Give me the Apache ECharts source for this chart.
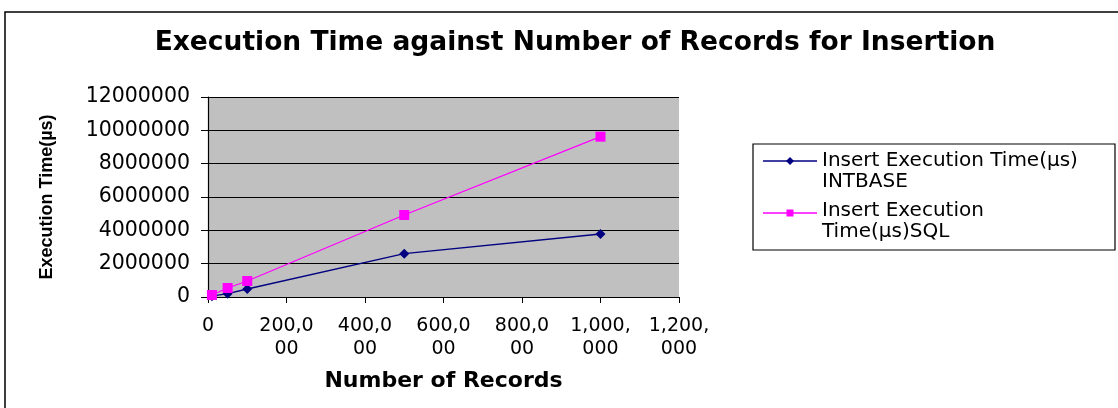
<!DOCTYPE html>
<html><head><meta charset="utf-8">
<script src="https://cdn.jsdelivr.net/npm/echarts@6/dist/echarts.min.js"></script>
<style>html,body{margin:0;padding:0;background:#fff;}#c{width:1118px;height:408px;}</style>
</head><body><div id="c"></div>
<script>
const records = [10000, 50000, 100000, 500000, 1000000];
const intbase = [50000, 200000, 480000, 2600000, 3780000];
const sqlTimes = [120000, 540000, 960000, 4920000, 9620000];
const xTickLabels = {0:'0',200000:'200,0\n00',400000:'400,0\n00',600000:'600,0\n00',800000:'800,0\n00',1000000:'1,000,\n000',1200000:'1,200,\n000'};
const seriesNames = ['Insert Execution Time(µs)\nINTBASE', 'Insert Execution\nTime(µs)SQL'];
const seriesColors = ['#000080', '#FF00FF'];
const F = '"DejaVu Sans", Verdana, sans-serif';
const FA = 'Arial, "Liberation Sans", sans-serif';

// legend drawn as graphic so the marker sits on the first text line (as in the reference)
const LX = 753, LY = 144, LW = 362, LH = 106;
const legendItems = [];
seriesNames.forEach((name, i) => {
  const cy = LY + 17 + i * 52;
  legendItems.push({ type: 'line', shape: { x1: LX + 10, y1: cy, x2: LX + 64, y2: cy }, style: { stroke: seriesColors[i], lineWidth: 1.3 } });
  if (i === 0) {
    legendItems.push({ type: 'polygon', shape: { points: [[LX + 37, cy - 4], [LX + 41, cy], [LX + 37, cy + 4], [LX + 33, cy]] }, style: { fill: seriesColors[i] } });
  } else {
    legendItems.push({ type: 'rect', shape: { x: LX + 33.5, y: cy - 3.5, width: 7, height: 7 }, style: { fill: seriesColors[i] } });
  }
  legendItems.push({ type: 'text', x: LX + 69, y: cy - 11 - (i === 1 ? 2 : 0), style: { text: name, font: '20px ' + F, fill: '#000', lineHeight: 21.5, verticalAlign: 'top' } });
});

const chart = echarts.init(document.getElementById('c'));
chart.setOption({
  animation: false,
  backgroundColor: '#fff',
  title: { text: 'Execution Time against Number of Records for Insertion', left: 570, textAlign: 'center', top: 25,
    textStyle: { fontFamily: F, fontSize: 26.5, fontWeight: 'bold', color: '#000' } },
  graphic: [
    { type: 'rect', shape: { x: 5, y: 12, width: 1130, height: 410 }, style: { fill: 'none', stroke: '#000', lineWidth: 1.5 }, silent: true },
    { type: 'group', silent: true, children: [
      { type: 'rect', shape: { x: LX, y: LY, width: LW, height: LH }, style: { fill: '#fff', stroke: '#000', lineWidth: 1.2 } }
    ].concat(legendItems) }
  ],
  legend: { show: false, data: seriesNames },
  grid: { left: 208, right: 439, top: 97, bottom: 111, show: true, backgroundColor: '#C0C0C0', borderWidth: 0 },
  xAxis: {
    type: 'value', min: 0, max: 1200000, interval: 200000,
    name: 'Number of Records', nameLocation: 'middle', nameGap: 73,
    nameTextStyle: { fontFamily: F, fontSize: 22, fontWeight: 'bold', color: '#000' },
    axisLine: { show: true, onZero: false, lineStyle: { color: '#000', width: 1.2 } },
    axisTick: { show: true, length: 6, lineStyle: { color: '#000' } },
    splitLine: { show: false },
    axisLabel: { fontFamily: F, fontSize: 19, color: '#000', margin: 18, lineHeight: 23,
      formatter: v => xTickLabels[v] !== undefined ? xTickLabels[v] : '' }
  },
  yAxis: {
    type: 'value', min: 0, max: 12000000, interval: 2000000,
    name: 'Execution Time(µs)', nameLocation: 'middle', nameGap: 152,
    nameTextStyle: { fontFamily: FA, fontSize: 18, fontWeight: 'bold', color: '#000' },
    axisLine: { show: true, lineStyle: { color: '#000', width: 1.2 } },
    axisTick: { show: true, length: 7, lineStyle: { color: '#000' } },
    splitLine: { show: true, lineStyle: { color: '#000', width: 1.2 } },
    axisLabel: { fontFamily: F, fontSize: 20.5, color: '#000', margin: 18, formatter: v => String(v) }
  },
  series: [
    { name: seriesNames[0], type: 'line', data: records.map((x, i) => [x, intbase[i]]),
      symbol: 'diamond', symbolSize: 10, lineStyle: { color: seriesColors[0], width: 1.3 },
      itemStyle: { color: seriesColors[0] } },
    { name: seriesNames[1], type: 'line', data: records.map((x, i) => [x, sqlTimes[i]]),
      symbol: 'rect', symbolSize: 10, lineStyle: { color: seriesColors[1], width: 1.3 },
      itemStyle: { color: seriesColors[1] } }
  ]
});
</script></body></html>
